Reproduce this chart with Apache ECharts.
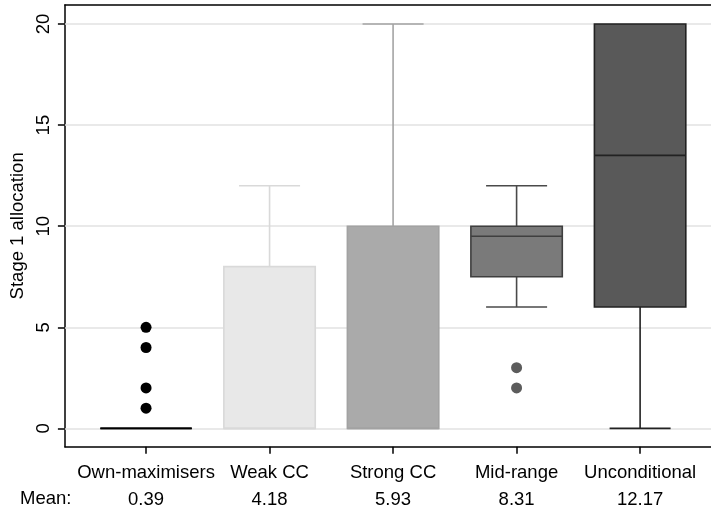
<!DOCTYPE html>
<html>
<head>
<meta charset="utf-8">
<script src="https://cdn.jsdelivr.net/npm/echarts@6/dist/echarts.min.js"></script>
<style>html,body{margin:0;padding:0;background:#fff}#c{width:711px;height:510px}</style>
</head>
<body>
<div id="c"></div>
<script>
var categories = ['Own-maximisers', 'Weak CC', 'Strong CC', 'Mid-range', 'Unconditional'];
var means = ['0.39', '4.18', '5.93', '8.31', '12.17'];
var lowerWhisker = [0, 0, 0, 6, 0];
var q1 = [0, 0, 0, 7.5, 6];
var median = [0, 0, 0, 9.5, 13.5];
var q3 = [0, 8, 10, 10, 20];
var upperWhisker = [0, 12, 20, 12, 20];
var outliers = [[1, 2, 4, 5], [], [], [2, 3], []];
var yTicks = [0, 5, 10, 15, 20];

var fillColors = ['#000000', '#e8e8e8', '#aaaaaa', '#7a7a7a', '#595959'];
var borderColors = ['#000000', '#d9d9d9', '#a2a2a2', '#3f3f3f', '#222222'];
var whiskerColors = ['#000000', '#d9d9d9', '#a4a4a4', '#4a4a4a', '#222222'];
var dotColors = ['#000000', '#e8e8e8', '#aaaaaa', '#5c5c5c', '#595959'];

var FS = 18.5;
var FONT = 'Liberation Sans, Arial, sans-serif';

var xPos = categories.map(function (c, i) { return i + 1; });
var boxData = categories.map(function (c, i) {
  return [xPos[i], lowerWhisker[i], q1[i], median[i], q3[i], upperWhisker[i]];
});
var outlierData = [];
outliers.forEach(function (arr, i) {
  arr.forEach(function (v) {
    outlierData.push({ value: [xPos[i], v], itemStyle: { color: dotColors[i], opacity: 1 } });
  });
});

var BOXW = 0.74, CAPW = 0.494;

function renderBox(params, api) {
  var i = params.dataIndex;
  var x = api.value(0);
  var lw = api.value(1), b1 = api.value(2), md = api.value(3), b3 = api.value(4), uw = api.value(5);
  var pL = api.coord([x - BOXW / 2, b1]);
  var pR = api.coord([x + BOXW / 2, b3]);
  var cL = api.coord([x - CAPW / 2, 0])[0];
  var cR = api.coord([x + CAPW / 2, 0])[0];
  var cx = api.coord([x, 0])[0];
  var yLw = api.coord([x, lw])[1], yUw = api.coord([x, uw])[1];
  var yMd = api.coord([x, md])[1];
  var wStyle = { stroke: whiskerColors[i], lineWidth: 1.6 };
  var children = [];
  if (uw > b3) {
    children.push({ type: 'line', shape: { x1: cx, y1: pR[1], x2: cx, y2: yUw }, style: wStyle });
    children.push({ type: 'line', shape: { x1: cL, y1: yUw, x2: cR, y2: yUw }, style: wStyle });
  }
  if (lw < b1) {
    children.push({ type: 'line', shape: { x1: cx, y1: pL[1], x2: cx, y2: yLw }, style: wStyle });
    children.push({ type: 'line', shape: { x1: cL, y1: yLw, x2: cR, y2: yLw }, style: wStyle });
  }
  children.push({
    type: 'rect',
    shape: { x: pL[0], y: pR[1], width: pR[0] - pL[0], height: pL[1] - pR[1] },
    style: { fill: fillColors[i], stroke: borderColors[i], lineWidth: 1.6 }
  });
  children.push({ type: 'line', shape: { x1: pL[0], y1: yMd, x2: pR[0], y2: yMd },
    style: { stroke: borderColors[i], lineWidth: 1.6 } });
  return { type: 'group', children: children };
}

var chart = echarts.init(document.getElementById('c'));
chart.setOption({
  animation: false,
  textStyle: { fontFamily: FONT },
  grid: { left: 64, right: 0, top: 5, bottom: 63.3 },
  xAxis: [{
    type: 'value', min: 0.343, max: 5.574,
    axisLine: { show: true, onZero: false, lineStyle: { color: '#000', width: 1.5 } },
    axisTick: { show: true, customValues: xPos, length: 7, lineStyle: { color: '#000', width: 1.5 } },
    axisLabel: {
      show: true, customValues: xPos, margin: 12.5,
      formatter: function (v) {
        var k = Math.round(v) - 1;
        return '{n|' + categories[k] + '}\n{m|' + means[k] + '}';
      },
      rich: {
        n: { fontSize: FS, fontFamily: FONT, color: '#000', lineHeight: 27 },
        m: { fontSize: FS, fontFamily: FONT, color: '#000', lineHeight: 27 }
      }
    },
    splitLine: { show: false }
  }, {
    type: 'value', position: 'top', min: 0.343, max: 5.574,
    axisLine: { show: true, onZero: false, lineStyle: { color: '#000', width: 1.5 } },
    axisTick: { show: false }, axisLabel: { show: false }, splitLine: { show: false }
  }],
  yAxis: {
    type: 'value', min: -0.907, max: 20.94,
    name: 'Stage 1 allocation', nameLocation: 'middle', nameRotate: 90, nameGap: 33,
    nameTextStyle: { fontSize: FS, fontFamily: FONT, color: '#000' },
    axisLine: { show: true, onZero: false, lineStyle: { color: '#000', width: 1.5 } },
    axisTick: { show: true, customValues: yTicks, length: 7, lineStyle: { color: '#000', width: 1.5 } },
    axisLabel: { show: true, customValues: yTicks, rotate: 90, margin: 11, fontSize: FS, fontFamily: FONT, color: '#000' },
    splitLine: { show: false }
  },
  graphic: [{
    type: 'text', left: 20, top: 489,
    style: { text: 'Mean:', fontSize: FS, fontFamily: FONT, fill: '#000' }
  }],
  series: [{
    type: 'custom',
    data: boxData,
    renderItem: renderBox,
    z: 3,
    markLine: {
      silent: true, symbol: ['none', 'none'], label: { show: false },
      lineStyle: { color: '#e2e2e2', width: 1.5, type: 'solid' },
      z: 1,
      data: yTicks.map(function (v) { return { yAxis: v }; })
    }
  }, {
    type: 'scatter',
    data: outlierData,
    symbolSize: 11,
    itemStyle: { opacity: 1 },
    z: 4
  }]
});
</script>
</body>
</html>
